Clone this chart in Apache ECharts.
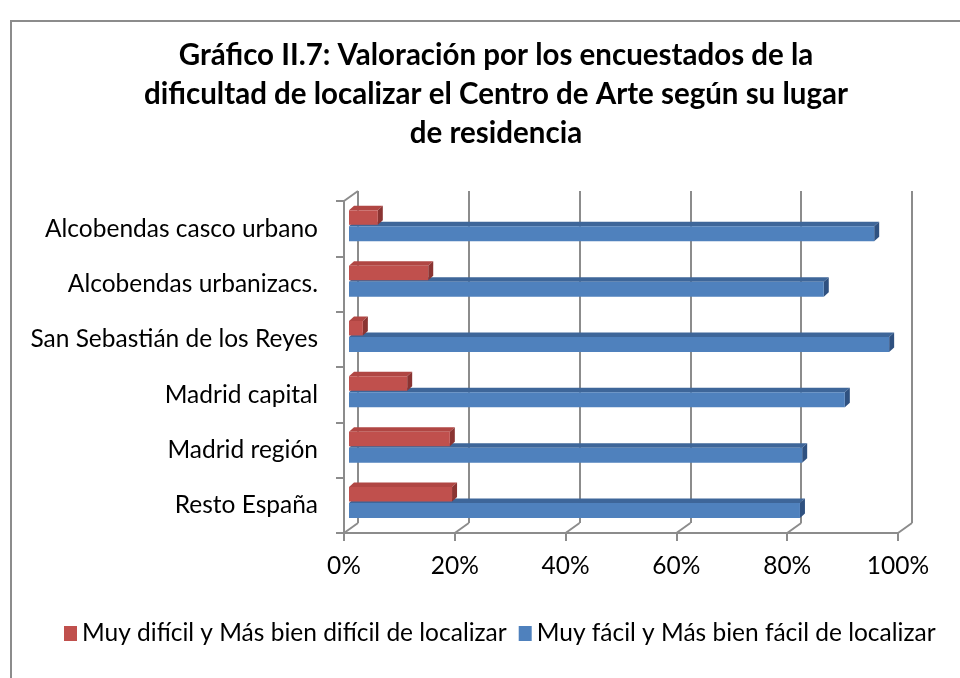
<!DOCTYPE html>
<html>
<head>
<meta charset="utf-8">
<script src="https://cdn.jsdelivr.net/npm/echarts@6/dist/echarts.min.js"></script>
<style>
  html, body { margin: 0; padding: 0; background: #fff; }
  #chart { width: 960px; height: 678px; }
</style>
</head>
<body>
<div id="chart"></div>
<script>
// datos (porcentajes)
const categorias = [
  'Alcobendas casco urbano',
  'Alcobendas urbanizacs.',
  'San Sebastián de los Reyes',
  'Madrid capital',
  'Madrid región',
  'Resto España'
];
const dificil = [5.2, 14.3, 2.5, 10.5, 18.2, 18.6];
const facil = [94.8, 85.7, 97.5, 89.5, 81.8, 81.4];
const ticks = [0, 20, 40, 60, 80, 100];
const nombres = [
  'Muy difícil y Más bien difícil de localizar',
  'Muy fácil y Más bien fácil de localizar'
];

const FONT = 'Lato';
const GRIS = '#8c8c8c';

// barra "3D": cara frontal + cara superior + lateral
function barra(offTop, grosor, cFront, cTop, cSide) {
  return function (params, api) {
    const i = api.value(1);
    const v = api.value(0);
    const p0 = api.coord([0, i]);
    const p1 = api.coord([v, i]);
    const band = api.size([0, 1])[1];
    const x0 = p0[0] + 5, x1 = p1[0] + 5;
    const y0 = p0[1] - band / 2 + offTop;
    const y1 = y0 + grosor;
    const dx = 5, dy = -4.5;
    return {
      type: 'group',
      children: [
        { type: 'polygon', shape: { points: [[x0, y0], [x1, y0], [x1 + dx, y0 + dy], [x0 + dx, y0 + dy]] }, style: { fill: cTop } },
        { type: 'polygon', shape: { points: [[x1, y0], [x1 + dx, y0 + dy], [x1 + dx, y1 + dy], [x1, y1]] }, style: { fill: cSide } },
        { type: 'rect', shape: { x: x0, y: y0, width: x1 - x0, height: grosor }, style: { fill: cFront } }
      ]
    };
  };
}

let chart = echarts.init(document.getElementById('chart'));
let option = {
  animation: false,
  title: {
    text: 'Gráfico II.7: Valoración por los encuestados de la\ndificultad de localizar el Centro de Arte según su lugar\nde residencia',
    left: 491,
    top: 31,
    textAlign: 'center',
    textStyle: { fontFamily: FONT, fontSize: 29.5, fontWeight: 'bold', color: '#000', lineHeight: 39, align: 'center' }
  },
  graphic: [
    { type: 'rect', shape: { x: 11, y: 21, width: 1000, height: 700 }, style: { fill: 'none', stroke: GRIS, lineWidth: 2 }, silent: true }
  ],
  legend: {
    data: nombres,
    left: 59,
    top: 616,
    icon: 'rect',
    itemWidth: 13,
    itemHeight: 15,
    itemGap: 12,
    textStyle: { fontFamily: FONT, fontSize: 24.5, color: '#000' }
  },
  grid: [
    { left: 344, right: 62, top: 201, bottom: 145 },   // plano frontal
    { left: 358, right: 48, top: 191, bottom: 155 }    // pared del fondo
  ],
  xAxis: [
    {
      gridIndex: 0, type: 'value', min: 0, max: 100, interval: 20,
      axisLine: { show: true, lineStyle: { color: GRIS, width: 2 } },
      axisTick: { show: true, length: 8, lineStyle: { color: GRIS, width: 2 } },
      axisLabel: { formatter: '{value}%', fontFamily: FONT, fontSize: 24.5, color: '#000', margin: 21 },
      splitLine: { show: false }
    },
    {
      gridIndex: 1, type: 'value', min: 0, max: 100, interval: 20,
      axisLine: { show: false }, axisTick: { show: false }, axisLabel: { show: false },
      splitLine: { show: true, lineStyle: { color: GRIS, width: 2 } }
    }
  ],
  yAxis: [
    {
      gridIndex: 0, type: 'category', data: categorias, inverse: true,
      axisLine: { show: true, lineStyle: { color: GRIS, width: 2 } },
      axisTick: { show: true, length: 8, lineStyle: { color: GRIS, width: 2 } },
      axisLabel: { fontFamily: FONT, fontSize: 24.5, color: '#000', margin: 26, padding: [4, 0, 0, 0] }
    },
    {
      gridIndex: 1, type: 'category', data: categorias, inverse: true,
      axisLine: { show: false }, axisTick: { show: false }, axisLabel: { show: false }, splitLine: { show: false }
    }
  ],
  series: [
    {
      // lineas del suelo hacia el fondo
      type: 'custom', xAxisIndex: 0, yAxisIndex: 0, silent: true,
      data: ticks.map(t => [t, 0]),
      encode: { x: 0, y: 1 },
      renderItem: function (params, api) {
        const cs = params.coordSys;
        const x = api.coord([api.value(0), 0])[0];
        const yb = cs.y + cs.height;
        const kids = [{ type: 'line', shape: { x1: x, y1: yb, x2: x + 14, y2: yb - 10 }, style: { stroke: GRIS, lineWidth: 2 } }];
        if (api.value(0) === 0) {
          kids.push({ type: 'line', shape: { x1: x, y1: cs.y, x2: x + 14, y2: cs.y - 10 }, style: { stroke: GRIS, lineWidth: 2 } });
        }
        return { type: 'group', children: kids };
      }
    },
    {
      name: nombres[1], type: 'custom', xAxisIndex: 0, yAxisIndex: 0,
      itemStyle: { color: '#4F81BD' },
      data: facil.map((v, i) => [v, i]),
      encode: { x: 0, y: 1 },
      renderItem: barra(25.3, 15, '#4F81BD', '#3E6699', '#2F5180'),
      z: 3
    },
    {
      name: nombres[0], type: 'custom', xAxisIndex: 0, yAxisIndex: 0,
      itemStyle: { color: '#C0504D' },
      data: dificil.map((v, i) => [v, i]),
      encode: { x: 0, y: 1 },
      renderItem: barra(9.3, 14.5, '#C0504D', '#B04643', '#8A3432'),
      z: 4
    }
  ]
};
option && chart.setOption(option);
</script>
</body>
</html>
